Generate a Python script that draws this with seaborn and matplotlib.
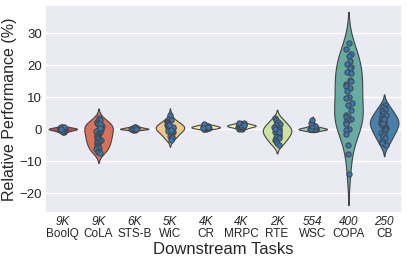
import numpy as np
import pandas as pd
import matplotlib
matplotlib.use("Agg")
import matplotlib.pyplot as plt
import matplotlib.transforms as mtransforms
import seaborn as sns

tasks = ["BoolQ", "CoLA", "STS-B", "WiC", "CR", "MRPC", "RTE", "WSC", "COPA", "CB"]
sizes = ["9K", "9K", "6K", "5K", "4K", "4K", "2K", "554", "400", "250"]

boolq = [-1.0, -0.8, -0.7, -0.5, -0.4, -0.3, -0.2, -0.2, -0.1, 0.0, 0.0, 0.1, 0.1,
         0.2, 0.2, 0.3, 0.3, 0.4, 0.5, 0.6, 0.7, 0.8, -0.5, 0.0]
cola = [3.4, 2.8, 2.3, 2.0, 1.6, 1.3, 1.0, 0.7, 0.4, 0.1, -0.2, -0.5, -0.8, -1.1,
        -1.4, -1.7, -2.0, -2.3, -2.6, -2.9, -3.2, -3.5, -3.8, -4.1, -4.4, -4.8,
        -5.2, -5.6, -6.0, -6.3, -6.7, -7.0, -7.5, 1.5, 0.5]
stsb = [-0.3, -0.2, -0.1, 0.0, 0.0, 0.1, 0.1, 0.2, 0.3, 0.4, 0.5, 0.6, 0.7, 0.2]
wic = [4.5, 3.0, 2.6, 2.2, 1.9, 1.6, 1.3, 1.0, 0.8, 0.5, 0.3, 0.1, -0.1, -0.4,
       -0.7, -1.0, -1.3, -1.6, -2.0, -2.4, -2.8, -3.5, 0.6, -0.2, 1.2]
cr = [0.0, 0.1, 0.2, 0.3, 0.4, 0.5, 0.6, 0.6, 0.7, 0.8, 0.9, 1.0, 1.1, 1.2, 1.3,
      1.5, 0.4, 0.8]
mrpc = [0.0, 0.2, 0.4, 0.6, 0.7, 0.8, 0.9, 1.0, 1.1, 1.2, 1.3, 1.4, 1.5, 1.6,
        1.8, 2.0, 0.9, 1.2]
rte = [3.5, 2.8, 2.2, 1.7, 1.2, 0.8, 0.4, 0.0, -0.4, -0.8, -1.2, -1.6, -2.0,
       -2.4, -2.8, -3.3, -3.8, -4.4, -5.0, 0.2, -1.0]
wsc = [0.0, 0.0, 0.0, 0.0, 0.0, 0.0, 0.0, 0.0, 0.0, 0.0, 0.0, 0.0, 0.0, 0.0,
       1.0, 1.0, 1.0, 2.0, 3.0]
copa = [26.8, 25.0, 23.5, 22.9, 21.4, 20.3, 19.3, 19.0, 17.8, 17.4, 15.4, 14.9,
        14.0, 13.4, 12.8, 11.8, 10.1, 9.6, 8.2, 7.6, 6.0, 4.5, 4.2, 3.7, 3.3,
        2.9, 2.1, 1.5, 0.0, -0.2, -1.5, -5.0, -7.7, -13.9]
cb = [7.4, 6.8, 6.3, 5.6, 5.0, 4.4, 4.0, 3.6, 3.1, 2.7, 2.3, 1.9, 1.6, 1.2, 0.8,
      0.4, 0.0, -0.4, -0.8, -1.2, -1.6, -2.1, -2.8, -3.6, -4.4, -5.0, 2.0, 3.3]

values = [boolq, cola, stsb, wic, cr, mrpc, rte, wsc, copa, cb]
df = pd.DataFrame({
    "task": np.concatenate([[t] * len(v) for t, v in zip(tasks, values)]),
    "val": np.concatenate(values),
})

sns.set_theme(style="darkgrid")
plt.rcParams["font.family"] = ["Liberation Sans", "DejaVu Sans"]

fig = plt.figure(figsize=(4.07, 2.61), dpi=100)
ax = fig.add_axes([45 / 407, 1 - 213 / 261, 357 / 407, 208 / 261])

pal = sns.color_palette("Spectral", len(tasks))
sns.violinplot(data=df, x="task", y="val", hue="task", order=tasks, hue_order=tasks,
               palette=pal, inner=None, density_norm="width", width=0.8,
               linewidth=0.8, linecolor="#444444", legend=False, ax=ax)
np.random.seed(3)
sns.stripplot(data=df, x="task", y="val", order=tasks, color="#3677b8", size=3.8,
              jitter=0.09, edgecolor="#444444", linewidth=0.7, ax=ax)

ax.set_ylim(-26.2, 38.8)
ax.set_xlim(-0.5, 9.5)
ax.set_yticks([-20, -10, 0, 10, 20, 30])
ax.tick_params(axis="both", length=0)
ax.tick_params(axis="y", labelsize=9.5, pad=2)
ax.tick_params(axis="x", labelsize=8.5, pad=10.5)
ax.set_xticks(range(len(tasks)))
ax.set_xticklabels(tasks)
trans = mtransforms.blended_transform_factory(ax.transData, ax.transAxes)
for i, s in enumerate(sizes):
    ax.text(i, -0.015, s, transform=trans, ha="center", va="top",
            fontsize=8.5, style="italic")
ax.set_xlabel("Downstream Tasks", fontsize=12, labelpad=2)
ax.set_ylabel("Relative Performance (%)", fontsize=11.5, labelpad=2)

fig.savefig("out.png", dpi=100)
